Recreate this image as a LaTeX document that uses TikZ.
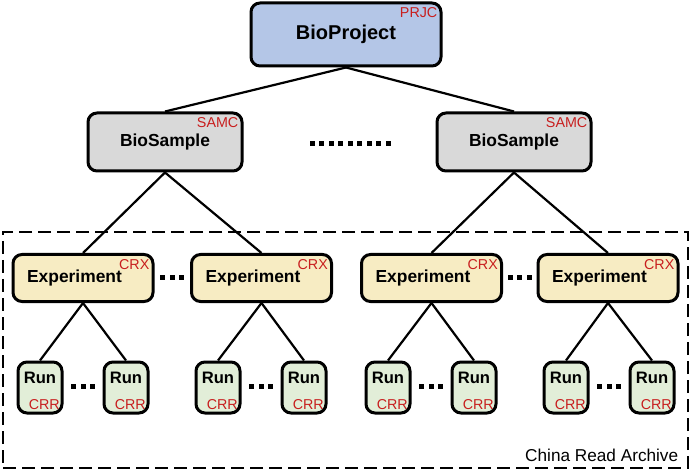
\documentclass[tikz,border=0pt]{standalone}
\usepackage{fontspec}
\setmainfont{Liberation Sans}
\usepackage{xcolor}
\usetikzlibrary{positioning, calc}

\definecolor{projblue}{RGB}{180,198,231}
\definecolor{sampgray}{RGB}{217,217,217}
\definecolor{expcream}{RGB}{247,236,195}
\definecolor{rungreen}{RGB}{226,238,216}
\definecolor{tagred}{RGB}{200,30,30}

% row of square dots: centre, count, gap
\newcommand{\dotrow}[3]{%
  \foreach \k in {1,...,#2} {
    \fill ([xshift={(\k-(#2+1)/2)*#3*1pt}]#1) ++(-2.5,-2.5) rectangle ++(5,5);
  }}

\begin{document}
\begin{tikzpicture}[x=1pt, y=-1pt,
    box/.style={rectangle, draw, line width=3pt, rounded corners=9pt, align=center},
    tag/.style={text=tagred, font=\fontsize{14.3}{16}\selectfont, inner xsep=5pt, inner ysep=6pt},
    tagged/.style={label={[tag, anchor=north east]north east:#1}},
    project/.style={box, fill=projblue, minimum width=190, minimum height=63, font=\fontsize{20}{22}\selectfont\bfseries},
    sample/.style={box, fill=sampgray, minimum width=154, minimum height=58, font=\fontsize{17.4}{20}\selectfont\bfseries},
    experiment/.style={box, fill=expcream, minimum width=140, minimum height=47, font=\fontsize{17.4}{20}\selectfont\bfseries},
    run/.style={box, fill=rungreen, minimum width=44, minimum height=51, text height=12pt, text depth=21pt,
        font=\fontsize{16.6}{19}\selectfont\bfseries, label={[tag, inner xsep=3.5pt, inner ysep=5pt, anchor=south east]south east:CRR}},
    link/.style={line width=2.2pt},
    archive/.style={draw, line width=2.8pt, dash pattern=on 13pt off 6pt, minimum width=685, minimum height=236}
]
    \useasboundingbox (0,0) rectangle (691,473);

    % archive frame
    \node[archive, label={[font=\fontsize{17.2}{20}\selectfont, inner xsep=11pt, inner ysep=8pt, anchor=south east]south east:China Read Archive}] (cra) at (345.5,350) {};

    % project and samples
    \node[project, tagged=PRJC] (proj) at (346,34.5) {BioProject};
    \node[sample, tagged=SAMC] (s1) at (165,142) {BioSample};
    \node[sample, tagged=SAMC] (s2) at (514,142) {BioSample};

    % experiments
    \foreach \n/\x in {e1/83, e2/261.5, e3/431.5, e4/608}
        \node[experiment, tagged=CRX] (\n) at (\x,278) {Experiment\hspace{17pt}};

    % runs
    \foreach \n/\x in {r1/40, r2/126, r3/218, r4/304, r5/388, r6/474, r7/566, r8/652}
        \node[run] (\n) at (\x,387.5) {Run};

    % links
    \draw[link] (proj.south) -- (s1.north);
    \draw[link] (proj.south) -- (s2.north);
    \foreach \a/\b in {s1/e1, s1/e2, s2/e3, s2/e4, e1/r1, e1/r2, e2/r3, e2/r4, e3/r5, e3/r6, e4/r7, e4/r8}
        \draw[link] (\a.south) -- (\b.north);

    % ellipses
    \coordinate (sdots) at (350,144);
    \dotrow{sdots}{9}{9.5}
    \foreach \a/\b [count=\i] in {e1/e2, e3/e4} {
        \coordinate (ed\i) at ($(\a.east)!0.5!(\b.west)$);
        \dotrow{ed\i}{3}{9.5}
    }
    \foreach \a/\b [count=\i] in {r1/r2, r3/r4, r5/r6, r7/r8} {
        \coordinate (rd\i) at ($(\a.east)!0.5!(\b.west)+(0,-1.5)$);
        \dotrow{rd\i}{3}{9.5}
    }
\end{tikzpicture}
\end{document}
